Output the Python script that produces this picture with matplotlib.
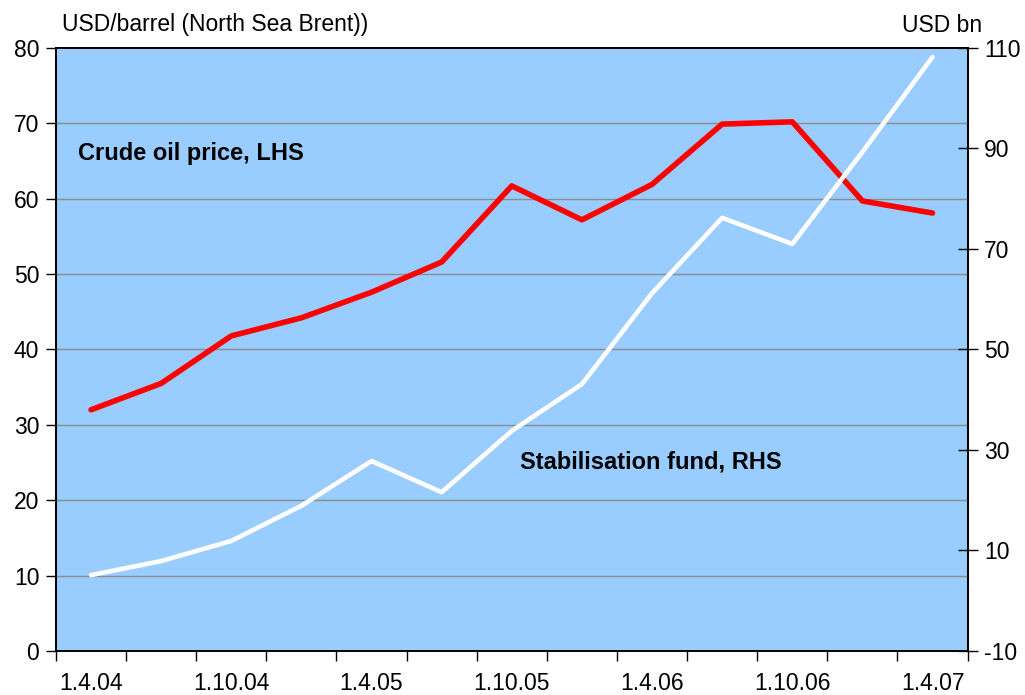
import matplotlib.pyplot as plt

plt.rcParams['font.family'] = ['Liberation Sans', 'DejaVu Sans']
plt.rcParams['axes.unicode_minus'] = False

dates = ['1.4.04', '1.7.04', '1.10.04', '1.1.05', '1.4.05', '1.7.05', '1.10.05',
         '1.1.06', '1.4.06', '1.7.06', '1.10.06', '1.1.07', '1.4.07']
oil_price = [32.0, 35.5, 41.8, 44.2, 47.6, 51.6, 61.7, 57.2, 61.9, 69.9, 70.2, 59.7, 58.1]
stab_fund = [5.1, 7.9, 11.9, 18.9, 27.8, 21.6, 33.8, 43.1, 61.2, 76.2, 71.0, 89.3, 108.2]

fig = plt.figure(figsize=(10.25, 6.95), dpi=100)
ax = fig.add_axes([0.0546, 0.0633, 0.8894, 0.8677])
ax.set_facecolor('#99CCFF')

x = list(range(len(dates)))
ax.set_xlim(-0.5, len(dates) - 0.5)
ax.set_ylim(0, 80)
ax.set_yticks(range(0, 81, 10))
for v in range(10, 80, 10):
    ax.axhline(v, color='#8c8c8c', lw=1, zorder=1)

# category boundary ticks, labels every half year
ax.set_xticks([i - 0.5 for i in range(len(dates) + 1)])
ax.set_xticklabels([])
ax.set_xticks(x[::2], minor=True)
ax.set_xticklabels(dates[::2], minor=True)
ax.tick_params(axis='x', which='major', length=7, width=1, direction='out')
ax.tick_params(axis='x', which='minor', length=0, pad=15, labelsize=16.5)
ax.tick_params(axis='y', length=7, width=1, direction='out', labelsize=16.5, pad=5)

ax2 = ax.twinx()
ax2.set_ylim(-10, 110)
ax2.set_yticks(range(-10, 111, 20))
ax2.tick_params(axis='y', length=14, width=1, direction='inout', labelsize=16.5, pad=5)

ax.plot(x, oil_price, color='#FF0000', lw=4, zorder=3, solid_capstyle='round')
ax2.plot(x, stab_fund, color='white', lw=3.3, zorder=3, solid_capstyle='round')

for a in (ax, ax2):
    for s in a.spines.values():
        s.set_linewidth(1.3)
        s.set_color('black')

ax.text(0.024, 0.825, 'Crude oil price, LHS', transform=ax.transAxes,
        fontsize=17, fontweight='bold', va='center', ha='left')
ax.text(0.509, 0.313, 'Stabilisation fund, RHS', transform=ax.transAxes,
        fontsize=17, fontweight='bold', va='center', ha='left')

fig.text(62 / 1025, 1 - 25 / 695, 'USD/barrel (North Sea Brent))', fontsize=16.5,
         va='center', ha='left')
fig.text(982 / 1025, 1 - 25 / 695, 'USD bn', fontsize=16.5, va='center', ha='right')

fig.savefig('out.png', dpi=100)
